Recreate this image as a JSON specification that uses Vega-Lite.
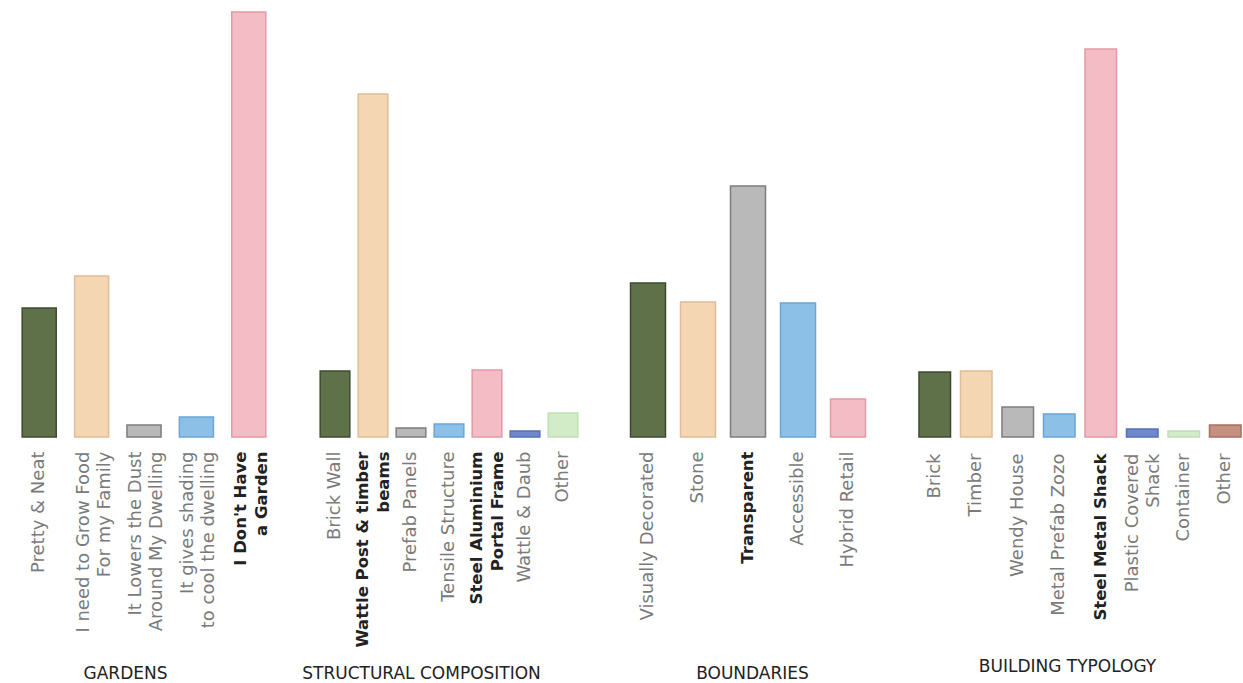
{
  "$schema": "https://vega.github.io/schema/vega-lite/v6.json",
  "padding": {"left": 13, "top": 0, "right": 0, "bottom": 0},
  "background": "white",
  "spacing": 41,
  "bounds": "flush",
  "config": {"view": {"stroke": null}},
  "datasets": {
    "survey": [
      {"group": "Gardens", "pos": 1, "label": "Pretty & Neat", "value": 129},
      {"group": "Gardens", "pos": 2, "label": "I need to Grow Food|For my Family", "value": 161},
      {"group": "Gardens", "pos": 3, "label": "It Lowers the Dust|Around My Dwelling", "value": 12},
      {"group": "Gardens", "pos": 4, "label": "It gives shading|to cool the dwelling", "value": 20},
      {"group": "Gardens", "pos": 5, "label": "I Don't Have|a Garden", "value": 425},
      {"group": "Structural", "pos": 1, "label": "Brick Wall", "value": 66},
      {"group": "Structural", "pos": 2, "label": "Wattle Post & timber|beams", "value": 343},
      {"group": "Structural", "pos": 3, "label": "Prefab Panels", "value": 9},
      {"group": "Structural", "pos": 4, "label": "Tensile Structure", "value": 13},
      {"group": "Structural", "pos": 5, "label": "Steel Aluminium|Portal Frame", "value": 67},
      {"group": "Structural", "pos": 6, "label": "Wattle & Daub", "value": 6},
      {"group": "Structural", "pos": 7, "label": "Other", "value": 24},
      {"group": "Boundaries", "pos": 1, "label": "Visually Decorated", "value": 154},
      {"group": "Boundaries", "pos": 2, "label": "Stone", "value": 135},
      {"group": "Boundaries", "pos": 3, "label": "Transparent", "value": 251},
      {"group": "Boundaries", "pos": 4, "label": "Accessible", "value": 134},
      {"group": "Boundaries", "pos": 5, "label": "Hybrid Retail", "value": 38},
      {"group": "Building", "pos": 1, "label": "Brick", "value": 65},
      {"group": "Building", "pos": 2, "label": "Timber", "value": 66},
      {"group": "Building", "pos": 3, "label": "Wendy House", "value": 30},
      {"group": "Building", "pos": 4, "label": "Metal Prefab Zozo", "value": 23},
      {"group": "Building", "pos": 5, "label": "Steel Metal Shack", "value": 388},
      {"group": "Building", "pos": 6, "label": "Plastic Covered|Shack", "value": 8},
      {"group": "Building", "pos": 7, "label": "Container", "value": 6},
      {"group": "Building", "pos": 8, "label": "Other", "value": 12}
    ]
  },
  "hconcat": [
    {
      "data": {"name": "survey"},
      "transform": [{"filter": "datum.group === 'Gardens'"}],
      "width": 262,
      "height": 437,
      "mark": {"type": "bar", "strokeWidth": 1.5},
      "encoding": {
        "x": {"field": "label", "type": "nominal", "sort": null,
          "scale": {"paddingInner": 0.35, "paddingOuter": 0.175},
          "axis": {"title": "GARDENS", "titleX": 112, "titleY": 241, "titleBaseline": "alphabetic", "titleAlign": "center", "titleFont": "DejaVu Sans", "titleFontSize": 17, "titleFontWeight": "normal", "titleColor": "#222",
            "domain": false, "ticks": false, "labelAngle": -90, "labelAlign": "right", "labelBaseline": "middle", "labelPadding": 14, "labelLimit": 0, "labelOverlap": false,
            "labelFont": "DejaVu Sans", "labelLineHeight": 21,
            "labelExpr": "split(datum.label, '|')",
            "labelOffset": {"condition": {"test": "indexof(datum.value, '|') >= 0", "value": -8}, "value": 0},
            "labelFontSize": {"condition": {"test": "indexof([\"I Don't Have|a Garden\"], datum.value) >= 0", "value": 16.5}, "value": 18},
            "labelFontWeight": {"condition": {"test": "indexof([\"I Don't Have|a Garden\"], datum.value) >= 0", "value": "bold"}, "value": "normal"},
            "labelColor": {"condition": {"test": "indexof([\"I Don't Have|a Garden\"], datum.value) >= 0", "value": "#222"}, "value": "#7a7a7a"}}},
        "y": {"field": "value", "type": "quantitative", "scale": {"domain": [0, 437]}, "axis": null},
        "fill": {"field": "pos", "type": "ordinal", "legend": null, "scale": {"domain": [1,2,3,4,5,6,7,8], "range": ["#5f7149", "#f4d6b3", "#b9b9b9", "#8dc0e6", "#f4bcc4", "#7089cc", "#d2ecc8", "#c49080"]}},
        "stroke": {"field": "pos", "type": "ordinal", "legend": null, "scale": {"domain": [1,2,3,4,5,6,7,8], "range": ["#3e4a30", "#e0bd96", "#7d7d7d", "#6aa6d8", "#e39aa6", "#5570b8", "#bfe0b6", "#a87060"]}}
      }
    },
    {
      "data": {"name": "survey"},
      "transform": [{"filter": "datum.group === 'Structural'"}],
      "width": 266,
      "height": 437,
      "mark": {"type": "bar", "strokeWidth": 1.5},
      "encoding": {
        "x": {"field": "label", "type": "nominal", "sort": null,
          "scale": {"paddingInner": 0.22, "paddingOuter": 0.11},
          "axis": {"title": "STRUCTURAL COMPOSITION", "titleX": 105, "titleY": 241, "titleBaseline": "alphabetic", "titleAlign": "center", "titleFont": "DejaVu Sans", "titleFontSize": 17, "titleFontWeight": "normal", "titleColor": "#222",
            "domain": false, "ticks": false, "labelAngle": -90, "labelAlign": "right", "labelBaseline": "middle", "labelPadding": 14, "labelLimit": 0, "labelOverlap": false,
            "labelFont": "DejaVu Sans", "labelLineHeight": 21,
            "labelExpr": "split(datum.label, '|')",
            "labelOffset": {"condition": {"test": "indexof(datum.value, '|') >= 0", "value": -10}, "value": 0},
            "labelFontSize": {"condition": {"test": "indexof([\"Wattle Post & timber|beams\", \"Steel Aluminium|Portal Frame\"], datum.value) >= 0", "value": 16.5}, "value": 18},
            "labelFontWeight": {"condition": {"test": "indexof([\"Wattle Post & timber|beams\", \"Steel Aluminium|Portal Frame\"], datum.value) >= 0", "value": "bold"}, "value": "normal"},
            "labelColor": {"condition": {"test": "indexof([\"Wattle Post & timber|beams\", \"Steel Aluminium|Portal Frame\"], datum.value) >= 0", "value": "#222"}, "value": "#7a7a7a"}}},
        "y": {"field": "value", "type": "quantitative", "scale": {"domain": [0, 437]}, "axis": null},
        "fill": {"field": "pos", "type": "ordinal", "legend": null, "scale": {"domain": [1,2,3,4,5,6,7,8], "range": ["#5f7149", "#f4d6b3", "#b9b9b9", "#8dc0e6", "#f4bcc4", "#7089cc", "#d2ecc8", "#c49080"]}},
        "stroke": {"field": "pos", "type": "ordinal", "legend": null, "scale": {"domain": [1,2,3,4,5,6,7,8], "range": ["#3e4a30", "#e0bd96", "#7d7d7d", "#6aa6d8", "#e39aa6", "#5570b8", "#bfe0b6", "#a87060"]}}
      }
    },
    {
      "data": {"name": "survey"},
      "transform": [{"filter": "datum.group === 'Boundaries'"}],
      "width": 250,
      "height": 437,
      "mark": {"type": "bar", "strokeWidth": 1.5},
      "encoding": {
        "x": {"field": "label", "type": "nominal", "sort": null,
          "scale": {"paddingInner": 0.3, "paddingOuter": 0.15},
          "axis": {"title": "BOUNDARIES", "titleX": 129, "titleY": 241, "titleBaseline": "alphabetic", "titleAlign": "center", "titleFont": "DejaVu Sans", "titleFontSize": 17, "titleFontWeight": "normal", "titleColor": "#222",
            "domain": false, "ticks": false, "labelAngle": -90, "labelAlign": "right", "labelBaseline": "middle", "labelPadding": 14, "labelLimit": 0, "labelOverlap": false,
            "labelFont": "DejaVu Sans", "labelLineHeight": 21,
            "labelExpr": "split(datum.label, '|')",
            "labelFontSize": {"condition": {"test": "datum.value === 'Transparent'", "value": 16.5}, "value": 18},
            "labelFontWeight": {"condition": {"test": "datum.value === 'Transparent'", "value": "bold"}, "value": "normal"},
            "labelColor": {"condition": {"test": "datum.value === 'Transparent'", "value": "#222"}, "value": "#7a7a7a"}}},
        "y": {"field": "value", "type": "quantitative", "scale": {"domain": [0, 437]}, "axis": null},
        "fill": {"field": "pos", "type": "ordinal", "legend": null, "scale": {"domain": [1,2,3,4,5,6,7,8], "range": ["#5f7149", "#f4d6b3", "#b9b9b9", "#8dc0e6", "#f4bcc4", "#7089cc", "#d2ecc8", "#c49080"]}},
        "stroke": {"field": "pos", "type": "ordinal", "legend": null, "scale": {"domain": [1,2,3,4,5,6,7,8], "range": ["#3e4a30", "#e0bd96", "#7d7d7d", "#6aa6d8", "#e39aa6", "#5570b8", "#bfe0b6", "#a87060"]}}
      }
    },
    {
      "data": {"name": "survey"},
      "transform": [{"filter": "datum.group === 'Building'"}],
      "width": 332,
      "height": 437,
      "mark": {"type": "bar", "strokeWidth": 1.5},
      "encoding": {
        "x": {"field": "label", "type": "nominal", "sort": null,
          "scale": {"paddingInner": 0.24, "paddingOuter": 0.12},
          "axis": {"title": "BUILDING TYPOLOGY", "titleX": 153, "titleY": 234, "titleBaseline": "alphabetic", "titleAlign": "center", "titleFont": "DejaVu Sans", "titleFontSize": 17, "titleFontWeight": "normal", "titleColor": "#222",
            "domain": false, "ticks": false, "labelAngle": -90, "labelAlign": "right", "labelBaseline": "middle", "labelPadding": 16, "labelLimit": 0, "labelOverlap": false,
            "labelFont": "DejaVu Sans", "labelLineHeight": 21,
            "labelExpr": "split(datum.label, '|')",
            "labelOffset": {"condition": {"test": "indexof(datum.value, '|') >= 0", "value": -9}, "value": 0},
            "labelFontSize": {"condition": {"test": "datum.value === 'Steel Metal Shack'", "value": 16.5}, "value": 18},
            "labelFontWeight": {"condition": {"test": "datum.value === 'Steel Metal Shack'", "value": "bold"}, "value": "normal"},
            "labelColor": {"condition": {"test": "datum.value === 'Steel Metal Shack'", "value": "#222"}, "value": "#7a7a7a"}}},
        "y": {"field": "value", "type": "quantitative", "scale": {"domain": [0, 437]}, "axis": null},
        "fill": {"field": "pos", "type": "ordinal", "legend": null, "scale": {"domain": [1,2,3,4,5,6,7,8], "range": ["#5f7149", "#f4d6b3", "#b9b9b9", "#8dc0e6", "#f4bcc4", "#7089cc", "#d2ecc8", "#c49080"]}},
        "stroke": {"field": "pos", "type": "ordinal", "legend": null, "scale": {"domain": [1,2,3,4,5,6,7,8], "range": ["#3e4a30", "#e0bd96", "#7d7d7d", "#6aa6d8", "#e39aa6", "#5570b8", "#bfe0b6", "#a87060"]}}
      }
    }
  ]
}
